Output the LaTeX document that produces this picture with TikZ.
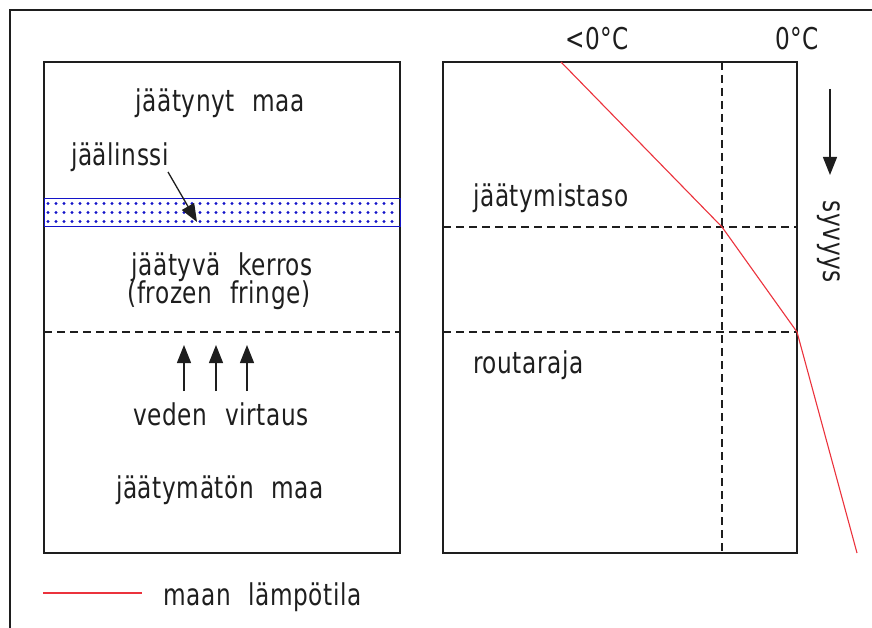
\documentclass[tikz,border=0pt]{standalone}
\usepackage{fontspec}
\setmainfont{DejaVu Sans Condensed}[FakeStretch=0.86, WordSpace=2.2, LetterSpace=2]
\usetikzlibrary{arrows.meta}
\definecolor{ink}{RGB}{30,30,30}
\definecolor{lensblue}{RGB}{20,20,200}
\definecolor{tempred}{RGB}{235,50,60}
\tikzset{
  box/.style={draw=ink, line width=1.4pt},
  frame/.style={draw=ink, line width=1.8pt},
  level/.style={draw=ink, line width=1.2pt, dash pattern=on 8pt off 5pt},
  lbl/.style={text=ink, font=\fontsize{30}{31}\selectfont, inner sep=0pt, anchor=base},
  lbll/.style={lbl, anchor=base west},
  flow/.style={draw=ink, line width=1.3pt, -{Triangle[length=18pt,width=14pt]}},
  temp/.style={draw=tempred, line width=1.1pt},
}
\begin{document}
\begin{tikzpicture}[x=1pt, y=-1pt]
\useasboundingbox (0,0) rectangle (872,628);
% sheet frame (top and left edges)
\draw[frame] (10,628) -- (10,10) -- (872,10);

% left panel: soil column
\draw[box] (44,62) rectangle (400,553);
\draw[draw=lensblue, line width=1pt] (44,199) rectangle (400,227);
\foreach \row in {203.5,212.5,221.5}
  \foreach \i in {0,...,43}
    \fill[lensblue] (48+8*\i,\row) circle (1.7);
\draw[level] (44,332) -- (400,332);

\node[lbl] (frozen) at (220,112) {jäätynyt maa};
\node[lbl] (lenslbl) at (120,166) {jäälinssi};
\coordinate (lenspt) at (197,222);
\draw[flow] (168,172) -- (lenspt);
\node[lbl] (fringe1) at (222,275) {jäätyvä kerros};
\node[lbl] (fringe2) at (219,303) {(frozen fringe)};
\foreach \x/\n in {184/a,216/b,247/c}{
  \coordinate (f\n0) at (\x,391);
  \coordinate (f\n1) at (\x,345);
  \draw[flow] (f\n0) -- (f\n1);
}
\node[lbl] (water) at (221,425) {veden virtaus};
\node[lbl] (unfrozen) at (220,498) {jäätymätön maa};

% right panel: temperature against depth
\draw[box] (443,62) rectangle (797,553);
\draw[level] (443,227) -- (797,227);
\draw[level] (443,332) -- (797,332);
\draw[level] (722,62) -- (722,553);
\node[lbll] (ftl) at (473,207) {jäätymistaso};
\node[lbll] (frost) at (473,373) {routaraja};
\node[lbl] (tneg) at (597,50) {<0°C};
\node[lbl] (tzero) at (797,50) {0°C};
\coordinate (t0) at (561,62);
\coordinate (t1) at (722,227);
\coordinate (t2) at (797,332);
\coordinate (t3) at (857,553);
\draw[temp] (t0) -- (t1) -- (t2) -- (t3);

% depth axis
\coordinate (d0) at (830,89);
\coordinate (d1) at (830,175);
\draw[flow] (d0) -- (d1);
\node[text=ink, font=\fontsize{30}{31}\selectfont, inner sep=0pt, rotate=-90] (depth) at (829,242) {syvyys};

% legend
\coordinate (l0) at (43,593);
\coordinate (l1) at (142,593);
\draw[temp] (l0) -- (l1);
\node[lbll] (legend) at (163,605) {maan lämpötila};
\end{tikzpicture}
\end{document}
